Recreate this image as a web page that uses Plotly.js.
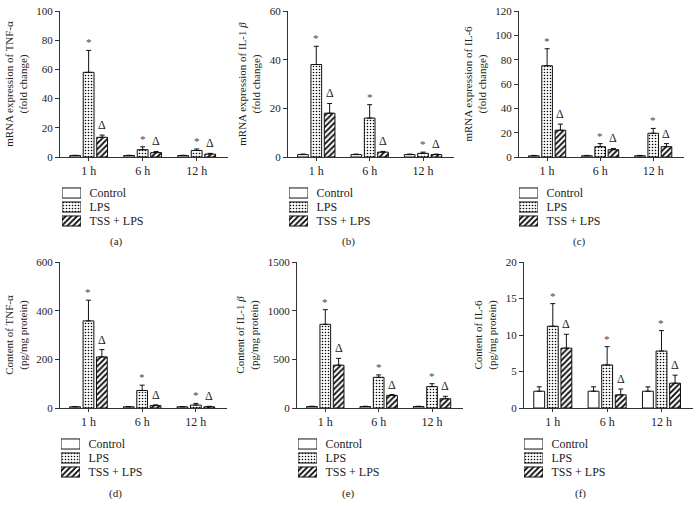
<!DOCTYPE html>
<html><head><meta charset="utf-8">
<script src="https://cdn.plot.ly/plotly-3.0.1.min.js"></script>
<style>body{margin:0;background:#fff}#chart{width:696px;height:516px}</style>
</head><body><div id="chart"></div>
<script>
const timeLabels = ['1 h', '6 h', '12 h'];
const groupNames = ['Control', 'LPS', 'TSS + LPS'];

// (a) mRNA TNF-α
const aControl = [1, 1, 1],       aControlErr = [0.2, 0.2, 0.2];
const aLPS = [58, 5, 4.5],        aLPSErr = [15, 2, 1];
const aTSS = [13.5, 3, 2],        aTSSErr = [1.5, 0.8, 0.5];
// (b) mRNA IL-1β
const bControl = [1, 1, 1],       bControlErr = [0.2, 0.2, 0.2];
const bLPS = [38, 16, 1.5],       bLPSErr = [7.5, 5.5, 0.5];
const bTSS = [18, 2, 1],          bTSSErr = [4, 0.3, 0.2];
// (c) mRNA IL-6
const cControl = [1, 1, 1],       cControlErr = [0.3, 0.3, 0.3];
const cLPS = [75, 8.5, 19.5],     cLPSErr = [14, 2.5, 4];
const cTSS = [22, 6, 8.5],        cTSSErr = [5, 1, 2.5];
// (d) content TNF-α
const dControl = [5, 5, 5],       dControlErr = [1, 1, 1];
const dLPS = [358, 72, 12],       dLPSErr = [85, 22, 7];
const dTSS = [210, 10, 5],        dTSSErr = [30, 3, 2];
// (e) content IL-1β
const eControl = [15, 15, 15],    eControlErr = [3, 3, 3];
const eLPS = [860, 315, 220],     eLPSErr = [150, 25, 30];
const eTSS = [440, 130, 95],      eTSSErr = [70, 8, 25];
// (f) content IL-6
const fControl = [2.3, 2.3, 2.3], fControlErr = [0.6, 0.6, 0.6];
const fLPS = [11.2, 5.9, 7.8],    fLPSErr = [3.1, 2.5, 2.8];
const fTSS = [8.2, 1.8, 3.4],     fTSSErr = [1.9, 0.8, 1.1];

const yTitles = [
  'mRNA expression of TNF-α<br>(fold change)',
  'mRNA expression of IL-1 <i>β</i><br>(fold change)',
  'mRNA expression of IL-6<br>(fold change)',
  'Content of TNF-α<br>(pg/mg protein)',
  'Content of IL-1 <i>β</i><br>(pg/mg protein)',
  'Content of IL-6<br>(pg/mg protein)'
];
const yMax = [100, 60, 120, 600, 1500, 20];
const yDtick = [20, 20, 20, 200, 500, 5];
const panelLetters = ['(a)', '(b)', '(c)', '(d)', '(e)', '(f)'];

const panels = [
  [aControl, aControlErr, aLPS, aLPSErr, aTSS, aTSSErr],
  [bControl, bControlErr, bLPS, bLPSErr, bTSS, bTSSErr],
  [cControl, cControlErr, cLPS, cLPSErr, cTSS, cTSSErr],
  [dControl, dControlErr, dLPS, dLPSErr, dTSS, dTSSErr],
  [eControl, eControlErr, eLPS, eLPSErr, eTSS, eTSSErr],
  [fControl, fControlErr, fLPS, fLPSErr, fTSS, fTSSErr]
];

const W = 696, H = 516;
const xPix = [[60, 228], [288, 454], [519, 684], [60, 227], [297, 463], [524, 693]];
const yPix = [[11, 157], [11, 157], [11, 157], [262, 408], [262, 408], [262, 408]];
const legX = [[62, 81], [289, 308], [519, 538], [61, 80], [298, 317], [524, 543]];
const legY = [[186, 228], [186, 228], [186, 228], [437, 479], [437, 479], [437, 479]];
const letterPix = [[116, 242], [349, 242], [579, 242], [115, 493], [348, 493], [580, 493]];

const FONT = 'Liberation Serif, Times New Roman, serif';
const INK = '#222';
const shapes = ['', '.', '/'];
const pat = g => ({shape: shapes[g], fgcolor: '#000', bgcolor: 'white',
                   size: g === 1 ? 3 : 4, solidity: g === 1 ? 0.22 : 0.45});

const x = [0, 1, 2];
const traces = [];
const layout = {
  width: W, height: H, margin: {l: 0, r: 0, t: 0, b: 0},
  paper_bgcolor: 'white', plot_bgcolor: 'white',
  font: {family: FONT, size: 11, color: INK},
  barmode: 'group', bargap: 0.25, bargroupgap: 0.2,
  annotations: [], showlegend: false
};

const bargap = 0.25;
const slot = (1 - bargap) / 3;

panels.forEach((p, k) => {
  const n = k + 1;
  const xa = 'x' + (n === 1 ? '' : n), ya = 'y' + (n === 1 ? '' : n);
  for (let g = 0; g < 3; g++) {
    traces.push({
      type: 'bar', x: x, y: p[2 * g], name: groupNames[g],
      xaxis: xa, yaxis: ya,
      marker: {color: 'white', line: {color: '#111', width: 1}, pattern: pat(g)},
      error_y: {type: 'data', symmetric: false, array: p[2 * g + 1], arrayminus: [0, 0, 0],
                color: '#111', thickness: 1, width: 2.5},
      hoverinfo: 'skip'
    });
  }
  layout['xaxis' + (n === 1 ? '' : n)] = {
    domain: [xPix[k][0] / W, xPix[k][1] / W], anchor: ya,
    range: [-0.53, 2.58], tickvals: x, ticktext: timeLabels,
    ticks: 'outside', ticklen: 3, tickcolor: '#333', showline: true, linecolor: '#333', linewidth: 1,
    showgrid: false, zeroline: false, tickfont: {family: FONT, size: 12, color: INK}, fixedrange: true
  };
  layout['yaxis' + (n === 1 ? '' : n)] = {
    domain: [1 - yPix[k][1] / H, 1 - yPix[k][0] / H], anchor: xa,
    range: [0, yMax[k]], dtick: yDtick[k], tick0: 0,
    ticks: 'outside', ticklen: 4, tickcolor: '#333', showline: true, linecolor: '#333', linewidth: 1,
    showgrid: false, zeroline: false, tickfont: {family: FONT, size: 11, color: INK},
    title: {text: yTitles[k], font: {family: FONT, size: 11, color: INK}, standoff: 6}, fixedrange: true
  };
  // legend drawn as a small horizontal-bar subplot
  const ln = n + 6;
  const lxa = 'x' + ln, lya = 'y' + ln;
  traces.push({
    type: 'bar', orientation: 'h', y: groupNames, x: groupNames.map(() => 1), width: 0.72,
    xaxis: lxa, yaxis: lya, hoverinfo: 'skip',
    marker: {color: 'white', line: {color: '#111', width: 1},
             pattern: {shape: shapes, fgcolor: '#000', bgcolor: 'white',
                       size: [4, 3, 4], solidity: [0.45, 0.22, 0.45]}}
  });
  layout['xaxis' + ln] = {
    domain: [legX[k][0] / W, legX[k][1] / W], anchor: lya, range: [0, 1],
    visible: false, fixedrange: true
  };
  layout['yaxis' + ln] = {
    domain: [1 - legY[k][1] / H, 1 - legY[k][0] / H], anchor: lxa,
    type: 'category', autorange: 'reversed', side: 'right',
    showline: false, showgrid: false, zeroline: false,
    ticks: 'outside', ticklen: 5, tickcolor: 'rgba(0,0,0,0)',
    tickfont: {family: FONT, size: 12, color: INK}, fixedrange: true
  };
  // significance markers
  for (let i = 0; i < 3; i++) {
    layout.annotations.push({
      xref: xa, yref: ya, x: x[i], y: p[2][i] + p[3][i], text: '*', showarrow: false,
      yanchor: 'bottom', yshift: 0, font: {family: 'Liberation Serif', size: 11, color: '#444'}
    });
    layout.annotations.push({
      xref: xa, yref: ya, x: x[i] + slot, y: p[4][i] + p[5][i], text: 'Δ', showarrow: false,
      yanchor: 'bottom', yshift: 1, font: {family: FONT, size: 12, color: INK}
    });
  }
  layout.annotations.push({
    xref: 'paper', yref: 'paper', x: letterPix[k][0] / W, y: 1 - letterPix[k][1] / H,
    text: panelLetters[k], showarrow: false, xanchor: 'center', yanchor: 'middle',
    font: {family: FONT, size: 11, color: INK}
  });
});

Plotly.newPlot('chart', traces, layout, {displayModeBar: false, staticPlot: true});
</script></body></html>
